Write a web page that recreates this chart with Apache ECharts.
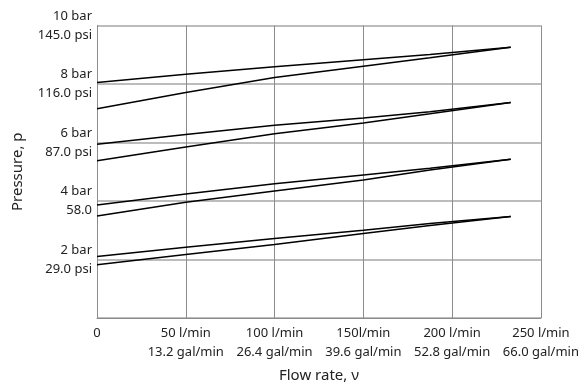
<!DOCTYPE html>
<html>
<head>
<meta charset="utf-8">
<script src="https://cdn.jsdelivr.net/npm/echarts@6/dist/echarts.min.js"></script>
<style>
  html, body { margin: 0; padding: 0; background: #fff; }
  #chart { width: 582px; height: 388px; }
</style>
</head>
<body>
<div id="chart"></div>
<script>
// Flow rate stations (l/min) at which pressures were read
const flow = [0, 50, 100, 150, 187.5, 233];

// Pressure curves (bar), in pairs per setting
const p8a = [8.05, 8.33, 8.59, 8.83, 9.01, 9.26];
const p8b = [7.15, 7.71, 8.22, 8.61, 8.90, 9.26];
const p6a = [5.94, 6.27, 6.59, 6.84, 7.05, 7.37];
const p6b = [5.38, 5.85, 6.30, 6.67, 6.98, 7.37];
const p4a = [3.86, 4.24, 4.59, 4.89, 5.12, 5.43];
const p4b = [3.49, 3.96, 4.34, 4.72, 5.06, 5.43];
const p2a = [2.10, 2.42, 2.72, 3.00, 3.23, 3.47];
const p2b = [1.82, 2.17, 2.51, 2.89, 3.16, 3.47];

// Tick labels
const xTickLabels = {
  0: '0',
  50: '50 l/min\n13.2 gal/min',
  100: '100 l/min\n26.4 gal/min',
  150: '150l/min\n39.6 gal/min',
  200: '200 l/min\n52.8 gal/min',
  250: '250 l/min\n66.0 gal/min'
};
const yTickLabels = {
  0: '',
  2: '2 bar\n29.0 psi',
  4: '4 bar\n58.0',
  6: '6 bar\n87.0 psi',
  8: '8 bar\n116.0 psi',
  10: '10 bar\n145.0 psi'
};

const curves = [p8a, p8b, p6a, p6b, p4a, p4b, p2a, p2b];

const font = 'Noto Sans';
const chart = echarts.init(document.getElementById('chart'), null, { renderer: 'canvas' });

chart.setOption({
  animation: false,
  backgroundColor: '#fff',
  grid: { left: 97, right: 41, top: 25.5, bottom: 66.5 },
  xAxis: {
    type: 'value',
    min: 0, max: 250, interval: 50,
    name: 'Flow rate, ν',
    nameLocation: 'middle',
    nameGap: 50,
    nameTextStyle: { fontFamily: font, fontSize: 15, color: '#222' },
    axisLine: { show: true, lineStyle: { color: '#8c8c8c', width: 1 } },
    axisTick: { show: false },
    splitLine: { show: true, lineStyle: { color: '#8c8c8c', width: 1 } },
    axisLabel: {
      fontFamily: font, fontSize: 13, color: '#222', lineHeight: 19, margin: 6,
      formatter: v => xTickLabels[v] !== undefined ? xTickLabels[v] : ''
    }
  },
  yAxis: {
    type: 'value',
    min: 0, max: 10, interval: 2,
    name: 'Pressure, p',
    nameLocation: 'middle',
    nameGap: 72,
    nameTextStyle: { fontFamily: font, fontSize: 15, color: '#222' },
    axisLine: { show: true, lineStyle: { color: '#8c8c8c', width: 1 } },
    axisTick: { show: false },
    splitLine: { show: true, lineStyle: { color: '#a6a6a6', width: 1.5 } },
    axisLabel: {
      fontFamily: font, fontSize: 13, color: '#222', lineHeight: 19, margin: 5,
      formatter: v => yTickLabels[v] !== undefined ? yTickLabels[v] : ''
    }
  },
  series: curves.map(vals => ({
    type: 'line',
    data: flow.map((f, i) => [f, vals[i]]),
    showSymbol: false,
    smooth: false,
    lineStyle: { color: '#000', width: 1.5 },
    itemStyle: { color: '#000' }
  }))
});
</script>
</body>
</html>
